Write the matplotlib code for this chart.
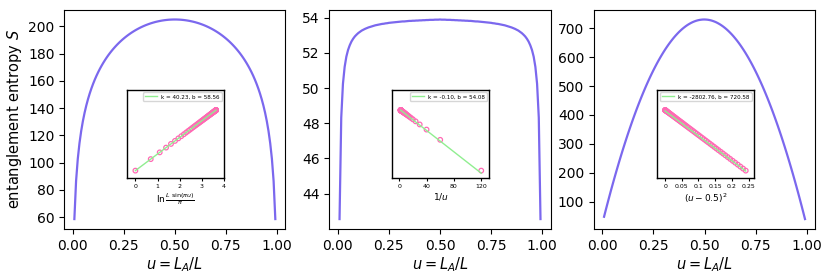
import numpy as np
import matplotlib
matplotlib.use("Agg")
import matplotlib.pyplot as plt
from matplotlib.ticker import FuncFormatter

# ---------------- data ----------------
L = 120
n_sites = np.arange(1, L)          # subsystem sizes L_A = 1..119
u = n_sites / L                    # u = L_A / L

S_log = [58.56, 86.43, 102.72, 114.26, 123.19, 130.48, 136.62, 141.93, 146.58, 150.73,
         154.47, 157.86, 160.97, 163.83, 166.47, 168.92, 171.20, 173.34, 175.34, 177.23,
         179.00, 180.67, 182.24, 183.73, 185.14, 186.48, 187.75, 188.95, 190.09, 191.17,
         192.19, 193.17, 194.09, 194.97, 195.80, 196.58, 197.33, 198.03, 198.70, 199.33,
         199.91, 200.47, 200.99, 201.47, 201.92, 202.35, 202.73, 203.09, 203.42, 203.71,
         203.98, 204.22, 204.43, 204.61, 204.76, 204.89, 204.99, 205.05, 205.10, 205.11,
         205.10, 205.05, 204.99, 204.89, 204.76, 204.61, 204.43, 204.22, 203.98, 203.71,
         203.42, 203.09, 202.73, 202.35, 201.92, 201.47, 200.99, 200.47, 199.91, 199.33,
         198.70, 198.03, 197.33, 196.58, 195.80, 194.97, 194.09, 193.17, 192.19, 191.17,
         190.09, 188.95, 187.75, 186.48, 185.14, 183.73, 182.24, 180.67, 179.00, 177.23,
         175.34, 173.34, 171.20, 168.92, 166.47, 163.83, 160.97, 157.86, 154.47, 150.73,
         146.58, 141.93, 136.62, 130.48, 123.19, 114.26, 102.72, 86.43, 58.56]

S_area = [42.56, 48.32, 50.24, 51.20, 51.78, 52.16, 52.43, 52.64, 52.80, 52.93,
          53.03, 53.12, 53.19, 53.26, 53.31, 53.36, 53.40, 53.44, 53.47, 53.50,
          53.53, 53.56, 53.58, 53.60, 53.62, 53.64, 53.65, 53.67, 53.68, 53.70,
          53.71, 53.72, 53.73, 53.74, 53.75, 53.76, 53.77, 53.78, 53.78, 53.79,
          53.80, 53.81, 53.81, 53.82, 53.82, 53.83, 53.83, 53.84, 53.84, 53.85,
          53.85, 53.86, 53.86, 53.87, 53.87, 53.87, 53.88, 53.88, 53.88, 53.89,
          53.88, 53.88, 53.88, 53.87, 53.87, 53.87, 53.86, 53.86, 53.85, 53.85,
          53.84, 53.84, 53.83, 53.83, 53.82, 53.82, 53.81, 53.81, 53.80, 53.79,
          53.78, 53.78, 53.77, 53.76, 53.75, 53.74, 53.73, 53.72, 53.71, 53.70,
          53.68, 53.67, 53.65, 53.64, 53.62, 53.60, 53.58, 53.56, 53.53, 53.50,
          53.47, 53.44, 53.40, 53.36, 53.31, 53.26, 53.19, 53.12, 53.03, 52.93,
          52.80, 52.64, 52.43, 52.16, 51.78, 51.20, 50.24, 48.32, 42.56]

S_vol = [48.0, 71.0, 93.5, 115.7, 137.6, 159.0, 180.0, 200.6, 220.8, 240.7,
         260.1, 279.2, 297.8, 316.1, 334.0, 351.4, 368.5, 385.2, 401.5, 417.4,
         432.9, 448.0, 462.7, 477.0, 490.9, 504.5, 517.6, 530.4, 542.7, 554.7,
         566.2, 577.4, 588.2, 598.5, 608.5, 618.1, 627.3, 636.1, 644.5, 652.5,
         660.1, 667.4, 674.2, 680.6, 686.7, 692.3, 697.6, 702.4, 706.9, 711.0,
         714.6, 717.9, 720.8, 723.3, 725.4, 727.1, 728.4, 729.3, 729.9, 730.0,
         729.7, 729.1, 728.0, 726.6, 724.7, 722.5, 719.9, 716.8, 713.4, 709.6,
         705.4, 700.8, 695.8, 690.4, 684.6, 678.5, 671.9, 664.9, 657.6, 649.8,
         641.7, 633.1, 624.2, 614.9, 605.1, 595.0, 584.5, 573.6, 562.3, 550.6,
         538.5, 526.0, 513.1, 499.9, 486.2, 472.1, 457.7, 442.8, 427.6, 412.0,
         395.9, 379.5, 362.7, 345.5, 327.9, 309.9, 291.5, 272.7, 253.5, 233.9,
         213.9, 193.6, 172.8, 151.6, 130.1, 108.2, 85.8, 63.1, 40.0]

fit_k = [40.23, -0.10, -2802.76]
fit_b = [58.56, 54.08, 720.58]

main_yticks = [list(range(60, 201, 20)), list(range(44, 55, 2)), list(range(100, 701, 100))]
inset_xticks = [[0, 1, 2, 3, 4], [0, 40, 80, 120], [0, 0.05, 0.1, 0.15, 0.2, 0.25]]
inset_xlabels = [r"$\ln\frac{L\ \sin(\pi u)}{\pi}$", r"$1/u$", r"$(u-0.5)^2$"]

# ---------------- plot ----------------
line_color = "#7B68EE"
fig = plt.figure(figsize=(8.31, 2.80), dpi=100)

main_lefts = [0.0774, 0.3965, 0.7148]
main_w = 0.2660
main_bottom, main_h = 0.182, 0.784

half = np.asarray(u) <= 0.5
inset_x = [np.log(L / np.pi * np.sin(np.pi * u)), 1.0 / u, (u - 0.5) ** 2]
series = [S_log, S_area, S_vol]

for i in range(3):
    ax = fig.add_axes([main_lefts[i], main_bottom, main_w, main_h])
    ax.plot(u, series[i], color=line_color, lw=1.6)
    ax.set_xticks([0.0, 0.25, 0.5, 0.75, 1.0])
    ax.set_yticks(main_yticks[i])
    ax.tick_params(labelsize=10)
    ax.set_xlabel(r"$u = L_A/L$", fontsize=10.5, labelpad=2)
    if i == 0:
        ax.set_ylabel(r"entanglement entropy $S$", fontsize=10.5, labelpad=3)

    ins = ax.inset_axes([0.285, 0.233, 0.438, 0.40])
    xs = inset_x[i][half]
    ys = np.asarray(series[i])[half]
    ins.scatter(xs, ys, s=11, facecolors="none", edgecolors="#FF69B4", linewidths=0.9, zorder=2)
    xl = np.array([xs.min(), xs.max()])
    ins.plot(xl, fit_k[i] * xl + fit_b[i], color="#90EE90", lw=1.0, zorder=3,
             label=f"k = {fit_k[i]:.2f}, b = {fit_b[i]:.2f}")
    xr = xs.max() - xs.min()
    yr = ys.max() - ys.min()
    ins.set_xlim(xs.min() - 0.1 * xr, xs.max() + 0.1 * xr)
    ins.set_ylim(ys.min() - 0.12 * yr, ys.max() + 0.33 * yr)
    ins.set_yticks([])
    ins.set_xticks(inset_xticks[i])
    ins.xaxis.set_major_formatter(FuncFormatter(lambda v, p: f"{v:g}"))
    ins.tick_params(axis="x", labelsize=4.5, length=2.5, width=0.8, pad=2)
    ins.set_xlabel(inset_xlabels[i], fontsize=6.5, labelpad=1.5)
    for sp in ins.spines.values():
        sp.set_linewidth(1.0)
    ins.legend(loc="upper right", fontsize=4.1, handlelength=2.2, borderpad=0.35,
               handletextpad=0.7, borderaxespad=0.4, framealpha=0.8)

fig.savefig("out.png", dpi=100)
